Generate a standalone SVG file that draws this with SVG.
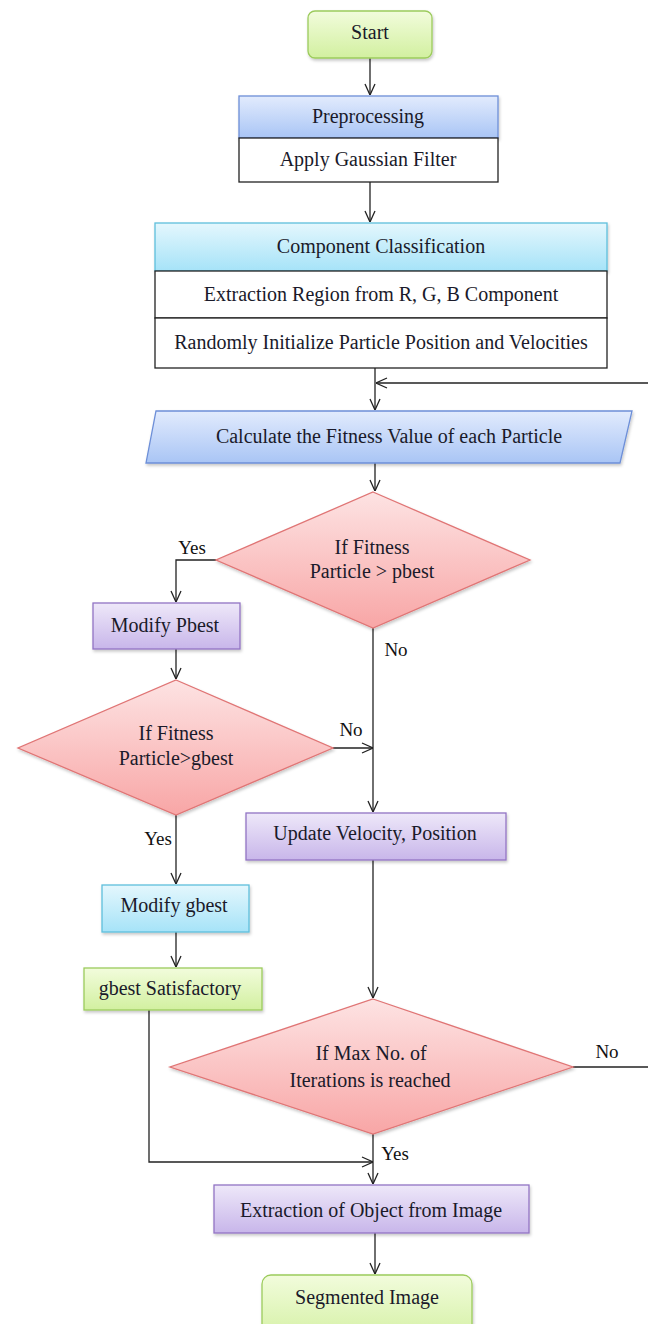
<svg xmlns="http://www.w3.org/2000/svg" width="648" height="1324" viewBox="0 0 648 1324">
<defs>
<linearGradient id="gGreen" x1="0" y1="0" x2="0" y2="1"><stop offset="0" stop-color="#f2fcdc"/><stop offset="1" stop-color="#d2f0a0"/></linearGradient>
<linearGradient id="gBlue" x1="0" y1="0" x2="0" y2="1"><stop offset="0" stop-color="#e2ebfd"/><stop offset="1" stop-color="#a9c5f5"/></linearGradient>
<linearGradient id="gCyan" x1="0" y1="0" x2="0" y2="1"><stop offset="0" stop-color="#e4f7fd"/><stop offset="1" stop-color="#a6e3f8"/></linearGradient>
<linearGradient id="gRed" x1="0" y1="0" x2="0" y2="1"><stop offset="0" stop-color="#fde3e3"/><stop offset="1" stop-color="#f8a6a6"/></linearGradient>
<linearGradient id="gPurple" x1="0" y1="0" x2="0" y2="1"><stop offset="0" stop-color="#eee8f9"/><stop offset="1" stop-color="#c8b6ea"/></linearGradient>
<filter id="sh" x="-10%" y="-10%" width="120%" height="130%"><feDropShadow dx="1" dy="2" stdDeviation="1.5" flood-color="#000" flood-opacity="0.22"/></filter>
<marker id="ah" viewBox="0 0 12 12" refX="12" refY="6" markerWidth="12" markerHeight="12" markerUnits="userSpaceOnUse" orient="auto">
<path d="M1,1 L12,6 L1,11" fill="none" stroke="#222" stroke-width="1.3"/>
</marker>
<style>
text{font-family:"Liberation Serif","Times New Roman",serif;font-size:20px;fill:#1a1a2a;text-anchor:middle;dominant-baseline:central}
.lbl{font-size:19px;fill:#111}
.green{fill:url(#gGreen);stroke:#9ccb5c;stroke-width:1.3}
.blue{fill:url(#gBlue);stroke:#6d8fd8;stroke-width:1.3}
.cyan{fill:url(#gCyan);stroke:#5fbfdc;stroke-width:1.3}
.red{fill:url(#gRed);stroke:#e07575;stroke-width:1.3}
.purple{fill:url(#gPurple);stroke:#9274c4;stroke-width:1.3}
.white{fill:#fff;stroke:#222;stroke-width:1.3}
.c{fill:none;stroke:#222;stroke-width:1.3}
</style>
</defs>
<rect width="648" height="1324" fill="#fff"/>

<g id="connectors">
<path class="c" d="M370,58 V95" marker-end="url(#ah)"/>
<path class="c" d="M370,182 V222" marker-end="url(#ah)"/>
<path class="c" d="M375,368 V410" marker-end="url(#ah)"/>
<path class="c" d="M648,383 H376" marker-end="url(#ah)"/>
<path class="c" d="M375,463 V491" marker-end="url(#ah)"/>
<path class="c" d="M216,560 H176 V602" marker-end="url(#ah)"/>
<path class="c" d="M176,649 V679" marker-end="url(#ah)"/>
<path class="c" d="M373,628 V812" marker-end="url(#ah)"/>
<path class="c" d="M333,748 H373" marker-end="url(#ah)"/>
<path class="c" d="M176,815 V884" marker-end="url(#ah)"/>
<path class="c" d="M176,932 V967" marker-end="url(#ah)"/>
<path class="c" d="M373,860 V998" marker-end="url(#ah)"/>
<path class="c" d="M573,1067 H648"/>
<path class="c" d="M149,1010 V1162 H373" marker-end="url(#ah)"/>
<path class="c" d="M373,1134 V1184" marker-end="url(#ah)"/>
<path class="c" d="M375,1233 V1274" marker-end="url(#ah)"/>
<text class="lbl" x="192" y="547">Yes</text>
<text class="lbl" x="396" y="649">No</text>
<text class="lbl" x="351" y="729">No</text>
<text class="lbl" x="158" y="838">Yes</text>
<text class="lbl" x="607" y="1051">No</text>
<text class="lbl" x="395" y="1153">Yes</text>
</g>

<g id="start">
<rect class="green" x="308" y="11" width="124" height="47" rx="7" filter="url(#sh)"/>
<text x="370" y="32">Start</text>
</g>

<g id="preprocessing">
<rect class="blue" x="239" y="96" width="259" height="42" filter="url(#sh)"/>
<rect class="white" x="239" y="138" width="259" height="44"/>
<text x="368" y="116">Preprocessing</text>
<text x="368" y="159">Apply Gaussian Filter</text>
</g>

<g id="component-classification">
<rect class="cyan" x="155" y="223" width="452" height="48" filter="url(#sh)"/>
<rect class="white" x="155" y="271" width="452" height="47"/>
<rect class="white" x="155" y="318" width="452" height="50"/>
<text x="381" y="246">Component Classification</text>
<text x="381" y="294">Extraction Region from R, G, B Component</text>
<text x="381" y="342">Randomly Initialize Particle Position and Velocities</text>
</g>

<g id="calc-fitness">
<polygon class="blue" points="156,411 632,411 620,463 146,463" filter="url(#sh)"/>
<text x="389" y="436">Calculate the Fitness Value of each Particle</text>
</g>

<g id="decision-pbest">
<polygon class="red" points="373,492 530,560 373,628 216,560" filter="url(#sh)"/>
<text x="372" y="547">If Fitness</text>
<text x="372" y="571">Particle &gt; pbest</text>
</g>

<g id="modify-pbest">
<rect class="purple" x="93" y="603" width="147" height="46" filter="url(#sh)"/>
<text x="165" y="625">Modify Pbest</text>
</g>

<g id="decision-gbest">
<polygon class="red" points="176,680 333,748 176,815 18,748" filter="url(#sh)"/>
<text x="176" y="733">If Fitness</text>
<text x="176" y="758">Particle&gt;gbest</text>
</g>

<g id="update-velocity">
<rect class="purple" x="246" y="813" width="260" height="47" filter="url(#sh)"/>
<text x="375" y="833">Update Velocity, Position</text>
</g>

<g id="modify-gbest">
<rect class="cyan" x="102" y="885" width="147" height="47" filter="url(#sh)"/>
<text x="174" y="905">Modify gbest</text>
</g>

<g id="gbest-satisfactory">
<rect class="green" x="84" y="968" width="178" height="42" filter="url(#sh)"/>
<text x="170" y="988">gbest Satisfactory</text>
</g>

<g id="decision-max-iter">
<polygon class="red" points="373,999 573,1067 373,1134 170,1067" filter="url(#sh)"/>
<text x="371" y="1053">If Max No. of</text>
<text x="370" y="1080">Iterations is reached</text>
</g>

<g id="extraction-object">
<rect class="purple" x="214" y="1185" width="315" height="48" filter="url(#sh)"/>
<text x="371" y="1210">Extraction of Object from Image</text>
</g>

<g id="segmented-image">
<rect class="green" x="262" y="1275" width="210" height="70" rx="9" filter="url(#sh)"/>
<text x="367" y="1297">Segmented Image</text>
</g>
</svg>
